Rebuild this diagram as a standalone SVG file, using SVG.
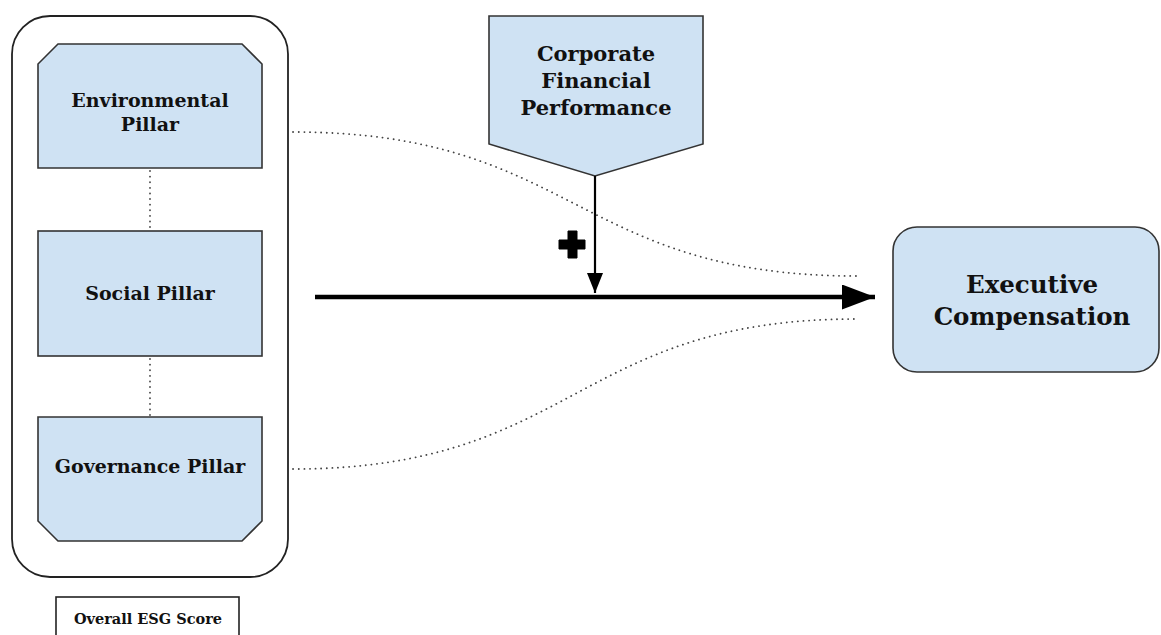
<svg xmlns="http://www.w3.org/2000/svg" width="1161" height="635" viewBox="0 0 1161 635">
<style>
.node{fill:#cfe2f3;stroke:#333;stroke-width:1.6}
.txt{font-family:"DejaVu Serif","Liberation Serif",serif;font-weight:bold;fill:#111;text-anchor:middle}
.dot{fill:none;stroke:#444;stroke-width:1.8;stroke-dasharray:0.1 5.5;stroke-linecap:round}
</style>
<defs>
<marker id="headBig" markerUnits="userSpaceOnUse" markerWidth="34" markerHeight="26" refX="33" refY="12.5" orient="auto">
<path d="M0,0 L33,12.5 L0,25 Z" fill="#000"/>
</marker>
<marker id="headSmall" markerUnits="userSpaceOnUse" markerWidth="21" markerHeight="17" refX="20" refY="8" orient="auto">
<path d="M0,0 L20,8 L0,16 Z" fill="#000"/>
</marker>
</defs>
<g id="esg-group">
<rect x="12" y="16" width="276" height="561" rx="38" fill="none" stroke="#222" stroke-width="1.8"/>
</g>
<g id="environmental">
<path class="node" d="M58,44 L242,44 L262,64 L262,168 L38,168 L38,64 Z"/>
<text class="txt" x="150" y="107" font-size="19">Environmental</text>
<text class="txt" x="150" y="131" font-size="19">Pillar</text>
</g>
<g id="social">
<rect class="node" x="38" y="231" width="224" height="125"/>
<text class="txt" x="150" y="300" font-size="19">Social Pillar</text>
</g>
<g id="governance">
<path class="node" d="M38,417 L262,417 L262,521 L242,541 L58,541 L38,521 Z"/>
<text class="txt" x="150" y="473" font-size="19">Governance Pillar</text>
</g>
<g id="overall-esg">
<rect x="56" y="597" width="183" height="45" fill="#fff" stroke="#222" stroke-width="1.6"/>
<text class="txt" x="148" y="624" font-size="14.5">Overall ESG Score</text>
</g>
<g id="cfp">
<path class="node" d="M489,16 L703,16 L703,144 L595,176 L489,144 Z"/>
<text class="txt" x="596" y="61" font-size="21">Corporate</text>
<text class="txt" x="596" y="88" font-size="21">Financial</text>
<text class="txt" x="596" y="115" font-size="21">Performance</text>
</g>
<g id="exec-comp">
<rect class="node" x="893" y="227" width="266" height="145" rx="24"/>
<text class="txt" x="1032" y="293" font-size="24.5">Executive</text>
<text class="txt" x="1032" y="325" font-size="24.5">Compensation</text>
</g>
<g id="connectors">
<line x1="150" y1="171" x2="150" y2="231" class="dot"/>
<line x1="150" y1="359" x2="150" y2="417" class="dot"/>
<path class="dot" d="M293,132 C575,132 575,276 857,276"/>
<path class="dot" d="M293,469 C575,469 575,319 857,319"/>
<line x1="315" y1="297" x2="875" y2="297" stroke="#000" stroke-width="4.5" marker-end="url(#headBig)"/>
<line x1="595" y1="176" x2="595" y2="293" stroke="#000" stroke-width="2.2" marker-end="url(#headSmall)"/>
<path d="M568,231 L577,231 L577,240 L585,240 L585,249 L577,249 L577,258 L568,258 L568,249 L559,249 L559,240 L568,240 Z" fill="#000" stroke="#000" stroke-width="1" stroke-linejoin="round"/>
</g>
</svg>
